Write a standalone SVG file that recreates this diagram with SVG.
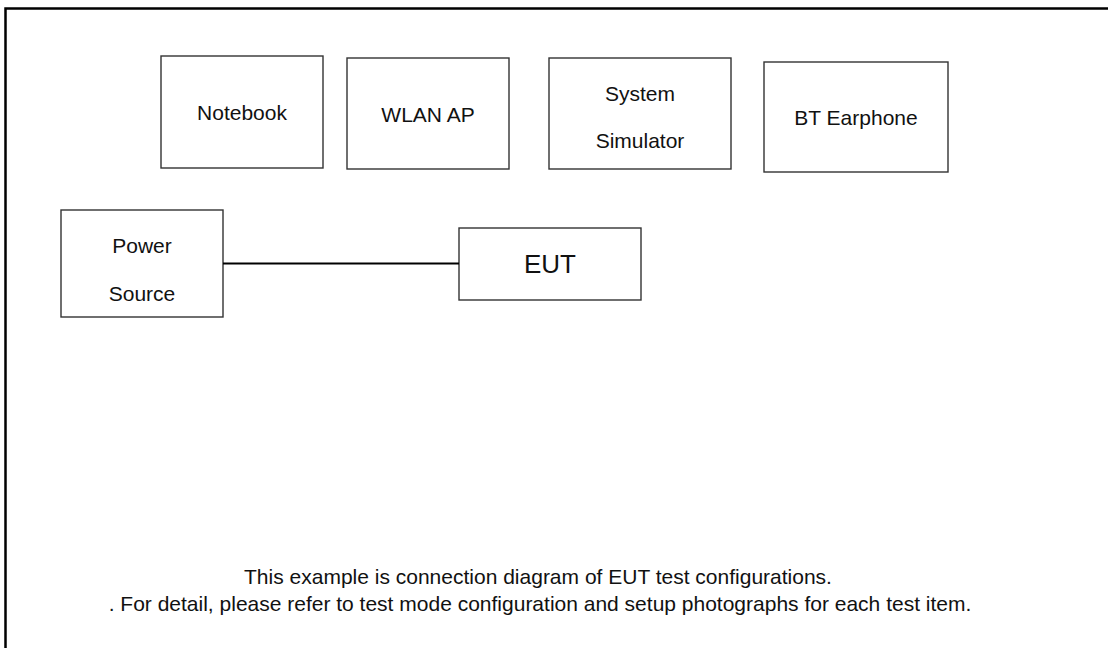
<svg xmlns="http://www.w3.org/2000/svg" width="1108" height="648" viewBox="0 0 1108 648">
<style>
.box{fill:#fff;stroke:#333;stroke-width:1.4}
.t{font-family:"Liberation Sans",Arial,sans-serif;font-size:21px;fill:#111;text-anchor:middle}
.conn{stroke:#000;stroke-width:2;fill:none}
</style>
<rect width="1108" height="648" fill="#fff"/>
<path d="M5.5 648 V8.5 H1108" fill="none" stroke="#000" stroke-width="2.5"/>
<g id="notebook"><rect class="box" x="161" y="56" width="162" height="112"/><text class="t" x="242" y="120">Notebook</text></g>
<g id="wlan-ap"><rect class="box" x="347" y="58" width="162" height="111"/><text class="t" x="428" y="122">WLAN AP</text></g>
<g id="system-simulator"><rect class="box" x="549" y="58" width="182" height="111"/><text class="t" x="640" y="101">System</text><text class="t" x="640" y="148">Simulator</text></g>
<g id="bt-earphone"><rect class="box" x="764" y="62" width="184" height="110"/><text class="t" x="856" y="125">BT Earphone</text></g>
<g id="power-source"><rect class="box" x="61" y="210" width="162" height="107"/><text class="t" x="142" y="253">Power</text><text class="t" x="142" y="301">Source</text></g>
<g id="eut"><rect class="box" x="459" y="228" width="182" height="72"/><text class="t" x="550" y="273" style="font-size:26px">EUT</text></g>
<g id="connectors"><line class="conn" x1="223" y1="263.5" x2="459" y2="263.5"/></g>
<g id="notes"><text class="t" x="538" y="584">This example is connection diagram of EUT test configurations.</text><text class="t" x="540" y="611">. For detail, please refer to test mode configuration and setup photographs for each test item.</text></g>
</svg>
